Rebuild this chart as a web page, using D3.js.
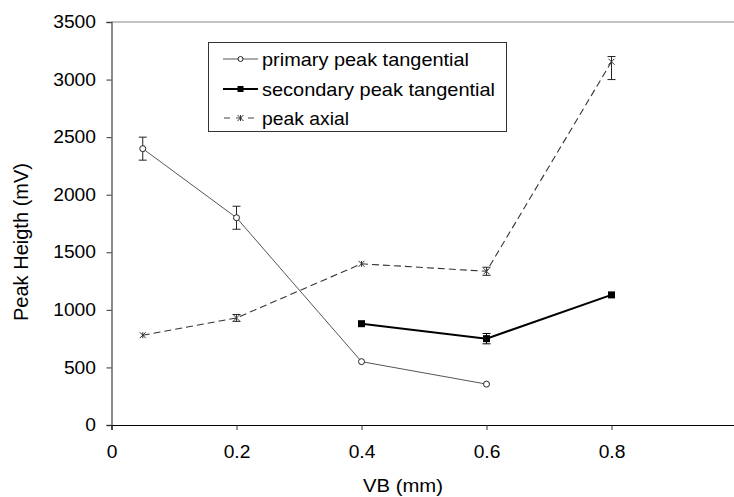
<!DOCTYPE html>
<html><head><meta charset="utf-8">
<script src="https://cdn.jsdelivr.net/npm/d3@7"></script>
<style>body{margin:0;background:#fff}svg{display:block}text{font-family:"Liberation Sans",Arial,sans-serif}</style>
</head><body><svg id="c" width="734" height="497"></svg>
<script>
const xTicks = [0, 0.2, 0.4, 0.6, 0.8, 1];
const yTicks = [0, 500, 1000, 1500, 2000, 2500, 3000, 3500];
const seriesNames = ["primary peak tangential", "secondary peak tangential", "peak axial"];
const primaryX = [0.05, 0.2, 0.4, 0.6];
const primaryY = [2400, 1800, 550, 355];
const primaryErr = [100, 100, 0, 0];
const secondaryX = [0.4, 0.6, 0.8];
const secondaryY = [880, 750, 1130];
const secondaryErr = [0, 45, 0];
const axialX = [0.05, 0.2, 0.4, 0.6, 0.8];
const axialY = [780, 930, 1400, 1335, 3155];
const axialErrLow = [0, 30, 0, 35, 155];
const axialErrHigh = [0, 30, 0, 35, 45];

const svg = d3.select("#c");
const x = d3.scaleLinear().domain([0, 1]).range([111.5, 736.5]);
const y = d3.scaleLinear().domain([0, 3500]).range([425, 22]);

function stretch(sel, k) {
  sel.each(function () {
    const w = this.getComputedTextLength();
    d3.select(this).attr("textLength", w * k).attr("lengthAdjust", "spacingAndGlyphs");
  });
}

// frame top
svg.append("line").attr("x1", x(0)).attr("x2", 734).attr("y1", y(3500)).attr("y2", y(3500))
  .attr("stroke", "#888").attr("stroke-width", 1);

// y axis
const ya = svg.append("g").attr("transform", `translate(${x(0)},0)`)
  .call(d3.axisLeft(y).tickValues(yTicks).tickSize(5).tickPadding(10.5).tickFormat(d3.format("d")));
ya.select(".domain").attr("stroke", "#666").attr("stroke-width", 1.5);
ya.selectAll(".tick line").attr("stroke", "#333");
ya.selectAll("text").attr("font-size", 17.5).attr("fill", "#000").style("font-family", "Liberation Sans, Arial, sans-serif").call(stretch, 1.1);

// x axis
const xa = svg.append("g").attr("transform", `translate(0,${y(0)})`)
  .call(d3.axisBottom(x).tickValues(xTicks).tickSize(5).tickPadding(16).tickFormat(d => d === 0 ? "0" : d === 1 ? "1" : d3.format(".1f")(d)));
xa.select(".domain").attr("stroke", "#000").attr("stroke-width", 1.2);
xa.selectAll(".tick line").attr("stroke", "#333");
xa.selectAll("text").attr("font-size", 17.5).attr("fill", "#000").style("font-family", "Liberation Sans, Arial, sans-serif").call(stretch, 1.1);
xa.selectAll(".tick").filter(d => d === 1).select("text").attr("x", 2.5);

// titles
svg.append("text").attr("x", 403).attr("y", 491.5).attr("text-anchor", "middle").attr("font-size", 18.5)
  .attr("textLength", 80).attr("lengthAdjust", "spacingAndGlyphs").text("VB (mm)");
svg.append("text").attr("transform", `translate(28,242) rotate(-90)`).attr("text-anchor", "middle").attr("font-size", 19.5)
  .attr("textLength", 158).attr("lengthAdjust", "spacingAndGlyphs").text("Peak Heigth (mV)");

const line = d3.line().x(d => x(d[0])).y(d => y(d[1]));

function errBars(xs, ys, lo, hi, color) {
  xs.forEach((xv, i) => {
    if (!lo[i] && !hi[i]) return;
    const cx = x(xv), y1 = y(ys[i] - lo[i]), y2 = y(ys[i] + hi[i]);
    svg.append("line").attr("x1", cx).attr("x2", cx).attr("y1", y1).attr("y2", y2).attr("stroke", color).attr("stroke-width", 1);
    [y1, y2].forEach(yy => svg.append("line").attr("x1", cx - 4).attr("x2", cx + 4).attr("y1", yy).attr("y2", yy).attr("stroke", color).attr("stroke-width", 1));
  });
}

// axial
const axialPts = axialX.map((v, i) => [v, axialY[i]]);
svg.append("path").attr("d", line(axialPts)).attr("fill", "none").attr("stroke", "#333").attr("stroke-width", 1.1).attr("stroke-dasharray", "7,4");
errBars(axialX, axialY, axialErrLow, axialErrHigh, "#222");
const star = (g, cx, cy) => {
  g.append("path").attr("d", `M${cx-3},${cy-3}L${cx+3},${cy+3}M${cx-3},${cy+3}L${cx+3},${cy-3}M${cx},${cy-3}L${cx},${cy+3}`)
    .attr("stroke", "#333").attr("stroke-width", 1).attr("fill", "none");
};
axialPts.forEach(p => star(svg, x(p[0]), y(p[1])));

// primary
const primPts = primaryX.map((v, i) => [v, primaryY[i]]);
svg.append("path").attr("d", line(primPts)).attr("fill", "none").attr("stroke", "#555").attr("stroke-width", 1);
errBars(primaryX, primaryY, primaryErr, primaryErr, "#222");
svg.selectAll(".pm").data(primPts).enter().append("circle").attr("cx", d => x(d[0])).attr("cy", d => y(d[1])).attr("r", 3)
  .attr("fill", "#fff").attr("stroke", "#222").attr("stroke-width", 1);

// secondary
const secPts = secondaryX.map((v, i) => [v, secondaryY[i]]);
svg.append("path").attr("d", line(secPts)).attr("fill", "none").attr("stroke", "#000").attr("stroke-width", 2);
errBars(secondaryX, secondaryY, secondaryErr, secondaryErr, "#000");
svg.selectAll(".sm").data(secPts).enter().append("rect").attr("x", d => x(d[0]) - 3.5).attr("y", d => y(d[1]) - 3.5)
  .attr("width", 7).attr("height", 7).attr("fill", "#000");

// legend
const lg = svg.append("g");
lg.append("rect").attr("x", 208.5).attr("y", 42.5).attr("width", 298).attr("height", 89).attr("fill", "#fff").attr("stroke", "#333").attr("stroke-width", 1);
const rows = [59, 89, 118];
const lx1 = 223, lx2 = 258, lm = (lx1 + lx2) / 2;
lg.append("line").attr("x1", lx1).attr("x2", lx2).attr("y1", rows[0]).attr("y2", rows[0]).attr("stroke", "#555").attr("stroke-width", 1);
lg.append("circle").attr("cx", lm).attr("cy", rows[0]).attr("r", 2.5).attr("fill", "#fff").attr("stroke", "#222");
lg.append("line").attr("x1", lx1).attr("x2", lx2).attr("y1", rows[1]).attr("y2", rows[1]).attr("stroke", "#000").attr("stroke-width", 2);
lg.append("rect").attr("x", lm - 3).attr("y", rows[1] - 3).attr("width", 6).attr("height", 6).attr("fill", "#000");
lg.append("line").attr("x1", lx1).attr("x2", lx2).attr("y1", rows[2]).attr("y2", rows[2]).attr("stroke", "#444").attr("stroke-width", 1).attr("stroke-dasharray", "6,6").attr("stroke-dashoffset", -1);
star(lg, lm, rows[2]);
const legendLen = [207, 233, 87];
seriesNames.forEach((n, i) => lg.append("text").attr("x", 262).attr("y", rows[i]).attr("dy", "0.36em").attr("font-size", 18.5)
  .attr("textLength", legendLen[i]).attr("lengthAdjust", "spacingAndGlyphs").text(n));
</script></body></html>
